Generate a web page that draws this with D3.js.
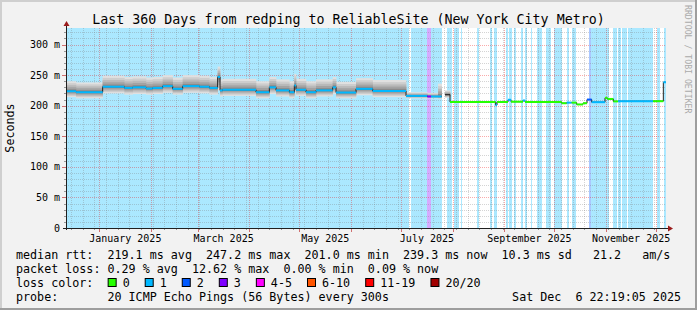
<!DOCTYPE html>
<html>
<head>
<meta charset="utf-8">
<script src="https://cdn.jsdelivr.net/npm/d3@7"></script>
<style>
  body { margin: 0; background: #f2f2f2; }
  svg { display: block; font-family: 'DejaVu Sans Mono', monospace; }
  text { white-space: pre; }
</style>
</head>
<body>
<svg width="697" height="310"></svg>
<script>
// window: last 360 days up to the graph time
const endTime = new Date(2025, 11, 6, 22, 19, 5)
const spanDays = 360
const yMax = 327

// median rtt as steps: day offset from window start -> ms
const stepDay = [0, 6, 22, 35, 40, 48, 52, 58, 64, 70, 80, 86, 91, 92.4, 94, 114, 122, 126, 134, 137, 138, 144, 150, 160, 162, 174, 184,
  204, 216.8, 219, 223.2, 225.4, 227.4, 230.4, 257.8, 258.6, 265.2, 267, 274.2, 275.4, 297.4, 300.4, 303.4, 306.4, 310.2, 312.6, 315.4,
  323.4, 324.8, 328.4, 331.2, 352.2, 358.4]
const medianMs = [223.6, 222, 231, 229, 230, 228, 229, 232, 227.5, 232, 231, 229, 247, 225, 226, 222, 230, 225, 222, 233, 226, 222, 225, 230, 221.5, 227.5, 224,
  216, 215, 215, 215, null, 218, 206, 201, 206, 209.6, 206.5, 208.5, 206, 204, 205, 205, 202, 204, 210, 205.7,
  212.8, 211, 207, 207.3, 207.3, 238.3]
// loss class of the median line on each step (null = plain line)
const lineLoss = [1, 1, 1, 1, 1, 1, 1, 1, 1, 1, 1, 1, 1, 1, 1, 1, 1, 1, 1, 1, 1, 1, 1, 1, 1, 1, 1,
  1, 3, 1, 1, null, null, 0, 1, 0, 1, 0, 1, 0, 0, 1, 0, 0, 0, 2, 1,
  0, 0, 0, 1, 0, 1]
// smoke (ping spread) per step, ms
const smokeLow = [214, 212, 220, 218, 219, 218, 219, 221, 218, 221, 220, 218, 225, 215, 216, 212, 219, 215, 212, 220, 216, 212, 215, 219, 212, 217, 214,
  212, 212, 212, 211, null, 213, null, null, null, null, null, null, null, null, null, null, null, null, null, null,
  null, null, null, null, null, null]
const smokeHigh = [240, 238, 249, 247, 248, 246, 247, 250, 246, 250, 249, 247, 264, 243, 244, 240, 247, 243, 240, 252, 244, 240, 243, 247, 239, 245, 242,
  222, 221, 221, 236, null, 225, null, null, null, null, null, null, null, null, null, null, null, null, null, null,
  null, null, null, null, null, null]

// packet loss background: [from day, to day, loss class]
const lossBands = [
  [0, 205.8, 1], [207, 216.8, 1], [216.8, 219, 3], [219, 225.4, 1], [228.4, 231.4, 1], [232.8, 235.6, 1], [236.8, 237.6, 1],
  [246.8, 248, 1], [254.4, 255.8, 1], [256.8, 258.8, 1], [264, 265, 1], [266, 267.4, 1], [268.8, 270, 1], [272.8, 274.4, 1],
  [275.6, 276.4, 1], [278.8, 279.8, 1], [282.4, 285.6, 1], [287.8, 290.8, 1], [292.8, 297.6, 1], [300.4, 301.6, 1],
  [303.4, 305.8, 1], [313.6, 314.8, 2], [314.8, 326, 1], [328.4, 330.4, 1], [331.4, 332.8, 1], [333.4, 336.4, 1],
  [337.4, 352.4, 1], [354.6, 356.1, 1], [358.5, 360, 1],
]

const lossLabels = ['0', '1', '2', '3', '4-5', '6-10', '11-19', '20/20']
const lossColors = ['#26ff00', '#00b8ff', '#0059ff', '#7e00ff', '#ff00ff', '#ff5500', '#ff0000', '#a10000']

const yTicks = d3.range(0, 301, 50)
const title = 'Last 360 Days from redping to ReliableSite (New York City Metro)'
const rttRow = 'median rtt:  219.1 ms avg  247.2 ms max  201.0 ms min  239.3 ms now  10.3 ms sd   21.2   am/s'
const lossRow = 'packet loss: 0.29 % avg  12.62 % max  0.00 % min  0.09 % now'
const probeRow = 'probe:       20 ICMP Echo Pings (56 Bytes) every 300s'
const stampText = 'Sat Dec  6 22:19:05 2025'

// layout
const plot = { left: 66, right: 666, top: 28, bottom: 228 }
const charW = 7.05
const fontSize = 11.7

const startTime = new Date(endTime.getTime() - spanDays * 864e5)
const dayToDate = d => new Date(startTime.getTime() + d * 864e5)

const x = d3.scaleTime().domain([startTime, endTime]).range([plot.left, plot.right])
const y = d3.scaleLinear().domain([0, yMax]).range([plot.bottom, plot.top])
const px = v => Math.round(v) + 0.5

const svg = d3.select('svg')

svg.append('rect').attr('width', 697).attr('height', 310).attr('fill', '#f2f2f2')
svg.append('path').attr('d', 'M1,310V1H697').attr('fill', 'none').attr('stroke', '#cfcfcf').attr('stroke-width', 2)
svg.append('path').attr('d', 'M0,309H696V0').attr('fill', 'none').attr('stroke', '#9e9e9e').attr('stroke-width', 2)

svg.append('rect')
  .attr('x', plot.left).attr('y', plot.top)
  .attr('width', plot.right - plot.left).attr('height', plot.bottom - plot.top)
  .attr('fill', '#fff')

// loss background
svg.append('g').selectAll('rect')
  .data(lossBands).join('rect')
  .attr('shape-rendering', 'crispEdges')
  .attr('x', d => x(dayToDate(d[0])))
  .attr('width', d => x(dayToDate(d[1])) - x(dayToDate(d[0])))
  .attr('y', plot.top).attr('height', plot.bottom - plot.top)
  .attr('fill', d => lossColors[d[2]]).attr('fill-opacity', 0.33)

// grid
const months = d3.timeMonth.range(startTime, endTime)
const weeks = d3.timeWeek.range(startTime, endTime).filter(w => w.getDate() !== 1)
const yMinor = d3.range(10, yMax, 10).filter(v => v % 50)
const yMajor = d3.range(50, yMax, 50)
const minorGrid = 'rgba(120,120,120,0.32)'
const majorGrid = 'rgba(240,0,0,0.33)'

const grid = svg.append('g').attr('stroke-dasharray', '1,1').attr('shape-rendering', 'crispEdges')
grid.selectAll('line.ymin').data(yMinor).join('line').classed('ymin', true)
  .attr('x1', plot.left).attr('x2', plot.right).attr('y1', d => px(y(d))).attr('y2', d => px(y(d)))
  .attr('stroke', minorGrid)
grid.selectAll('line.xmin').data(weeks).join('line').classed('xmin', true)
  .attr('y1', plot.top).attr('y2', plot.bottom).attr('x1', d => px(x(d))).attr('x2', d => px(x(d)))
  .attr('stroke', minorGrid)
grid.selectAll('line.ymaj').data(yMajor).join('line').classed('ymaj', true)
  .attr('x1', plot.left).attr('x2', plot.right).attr('y1', d => px(y(d))).attr('y2', d => px(y(d)))
  .attr('stroke', majorGrid)
grid.selectAll('line.xmaj').data(months).join('line').classed('xmaj', true)
  .attr('y1', plot.top).attr('y2', plot.bottom).attr('x1', d => px(x(d))).attr('x2', d => px(x(d)))
  .attr('stroke', majorGrid)

// ticks outside the canvas
const ticks = svg.append('g').attr('shape-rendering', 'crispEdges')
ticks.selectAll('line.yt').data(d3.range(10, yMax, 10)).join('line').classed('yt', true)
  .attr('x1', d => d % 50 ? plot.left - 2 : plot.left - 4).attr('x2', plot.left)
  .attr('y1', d => px(y(d))).attr('y2', d => px(y(d)))
  .attr('stroke', d => d % 50 ? '#999' : '#d07070')
ticks.selectAll('line.xt').data(weeks.concat(months)).join('line').classed('xt', true)
  .attr('y1', plot.bottom).attr('y2', d => d.getDate() === 1 ? plot.bottom + 4 : plot.bottom + 2)
  .attr('x1', d => px(x(d))).attr('x2', d => px(x(d)))
  .attr('stroke', d => d.getDate() === 1 ? '#d07070' : '#999')

// smoke
const steps = stepDay.map((d, i) => ({
  t0: dayToDate(d),
  t1: dayToDate(i + 1 < stepDay.length ? stepDay[i + 1] : spanDays),
  v: medianMs[i], loss: lineLoss[i], lo: smokeLow[i], hi: smokeHigh[i],
}))
const smokeShades = [[1, '#e0e0e0'], [0.8, '#cdcdcd'], [0.6, '#b9b9b9'], [0.4, '#a3a3a3'], [0.2, '#8a8a8a']]
const smoky = steps.filter(s => s.lo != null)
svg.append('g').selectAll('g')
  .data(smokeShades).join('g')
  .attr('fill', d => d[1])
  .selectAll('rect')
  .data(([f]) => smoky.map(s => ({ s, f }))).join('rect')
  .attr('x', d => x(d.s.t0))
  .attr('width', d => x(d.s.t1) - x(d.s.t0) + 0.3)
  .attr('y', d => y(d.s.v + (d.s.hi - d.s.v) * d.f))
  .attr('height', d => y(d.s.v - (d.s.v - d.s.lo) * d.f) - y(d.s.v + (d.s.hi - d.s.v) * d.f))

// median line: dark step line, then loss coloured runs
const pts = steps.flatMap(s => [{ t: s.t0, v: s.v }, { t: s.t1, v: s.v }])
svg.append('path')
  .attr('d', d3.line().defined(d => d.v != null).x(d => x(d.t)).y(d => y(d.v))(pts))
  .attr('fill', 'none').attr('stroke', '#202020').attr('stroke-width', 1)
svg.append('g').selectAll('line')
  .data(steps.filter(s => s.loss != null && s.v != null)).join('line')
  .attr('x1', d => x(d.t0)).attr('x2', d => x(d.t1))
  .attr('y1', d => y(d.v)).attr('y2', d => y(d.v))
  .attr('stroke', d => lossColors[d.loss]).attr('stroke-width', 2)

// axes
const axisColor = '#202020'
const arrowColor = '#9b1c1c'
svg.append('line').attr('x1', plot.left + 0.5).attr('x2', plot.left + 0.5)
  .attr('y1', plot.bottom + 2).attr('y2', plot.top - 4).attr('stroke', axisColor)
svg.append('line').attr('x1', plot.left - 3).attr('x2', plot.right + 3)
  .attr('y1', plot.bottom + 0.5).attr('y2', plot.bottom + 0.5).attr('stroke', axisColor)
svg.append('path').attr('fill', arrowColor)
  .attr('d', `M${plot.left + 0.5},${plot.top - 7}l3,5h-6z`)
svg.append('path').attr('fill', arrowColor)
  .attr('d', `M${plot.right + 7},${plot.bottom + 0.5}l-5,-3v6z`)

// axis labels
svg.append('g').selectAll('text')
  .data(yTicks).join('text')
  .attr('x', plot.left - 6).attr('y', d => y(d) + 3.5)
  .attr('text-anchor', 'end').attr('font-size', 10)
  .text(d => d === 0 ? '0' : `${d} m`)

const labelMonths = d3.timeMonth.every(2).range(d3.timeMonth.ceil(startTime), endTime)
svg.append('g').selectAll('text')
  .data(labelMonths).join('text')
  .attr('x', d => (x(d) + x(d3.timeMonth.offset(d, 1))) / 2)
  .attr('y', 241.5)
  .attr('text-anchor', 'middle').attr('font-size', 10)
  .text(d3.timeFormat('%B %Y'))

svg.append('text')
  .attr('transform', `translate(14, ${(plot.top + plot.bottom) / 2}) rotate(-90)`)
  .attr('text-anchor', 'middle').attr('font-size', fontSize)
  .text('Seconds')

svg.append('text')
  .attr('x', 348.5).attr('y', 23.5)
  .attr('text-anchor', 'middle').attr('font-size', 13.3)
  .text(title)

svg.append('text')
  .attr('transform', 'translate(685, 5) rotate(90)')
  .attr('font-size', 8.2).attr('fill', '#aaa')
  .text('RRDTOOL / TOBI OETIKER')

// legend
const legendX = 16
const rows = [rttRow, lossRow, 'loss color:', probeRow]
svg.append('g').selectAll('text')
  .data(rows).join('text')
  .attr('x', legendX).attr('y', (d, i) => 258.5 + i * 14)
  .attr('font-size', fontSize)
  .text(d => d)

svg.append('text')
  .attr('x', 681).attr('y', 258.5 + 3 * 14)
  .attr('text-anchor', 'end').attr('font-size', fontSize)
  .text(stampText)

let bx = legendX + 13 * charW
const swatches = lossLabels.map((label, i) => {
  const item = { label, color: lossColors[i], x: bx }
  bx += 15 + label.length * charW + 15
  return item
})
const sw = svg.append('g').selectAll('g')
  .data(swatches).join('g')
  .attr('transform', d => `translate(${d.x}, 278)`)
sw.append('rect')
  .attr('x', 0.5).attr('y', 0.5).attr('width', 8).attr('height', 8)
  .attr('fill', d => d.color).attr('stroke', '#000')
sw.append('text')
  .attr('x', 15).attr('y', 8.5).attr('font-size', fontSize)
  .text(d => d.label)
</script>
</body>
</html>
